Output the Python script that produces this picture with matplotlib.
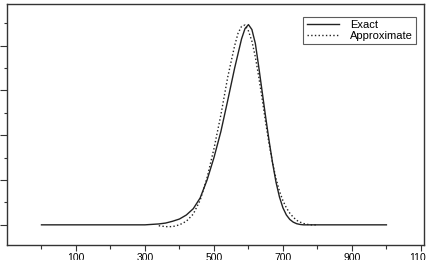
import matplotlib
matplotlib.use("Agg")
import matplotlib.pyplot as plt
from matplotlib.ticker import FixedLocator, NullFormatter

plt.rcParams['font.family'] = ['Liberation Sans', 'DejaVu Sans']

exact_x = [0, 300, 320, 340, 360, 380, 400, 420, 440, 460, 480, 500, 520, 540, 560,
           580, 590, 600, 610, 620, 630, 640, 650, 660, 670, 680, 690, 700, 710,
           720, 730, 740, 750, 760, 1000]
exact_y = [0.0, 0.0, 0.01, 0.02, 0.04, 0.08, 0.13, 0.22, 0.36, 0.60, 1.00, 1.50, 2.08,
           2.78, 3.50, 4.15, 4.38, 4.47, 4.36, 4.05, 3.52, 2.96, 2.40, 1.87, 1.38,
           0.95, 0.62, 0.38, 0.22, 0.12, 0.06, 0.025, 0.008, 0.0, 0.0]

approx_x = [340, 360, 380, 400, 420, 440, 460, 480, 500, 520, 540, 560, 570, 580,
            590, 600, 610, 620, 630, 640, 650, 660, 670, 680, 690, 700, 710, 720,
            730, 740, 750, 760, 770, 780, 800]
approx_y = [-0.02, -0.04, -0.04, 0.00, 0.08, 0.24, 0.55, 1.05, 1.70, 2.45, 3.30,
            4.00, 4.28, 4.43, 4.46, 4.33, 4.10, 3.75, 3.30, 2.80, 2.28, 1.80, 1.38,
            1.03, 0.75, 0.54, 0.38, 0.26, 0.17, 0.10, 0.06, 0.03, 0.012, 0.0, 0.0]

x_labeled_ticks = [100, 300, 500, 700, 900, 1100]
x_minor_ticks = [0, 200, 400, 600, 800, 1000]
y_major_ticks = [0, 1, 2, 3, 4]
y_minor_ticks = [0.5, 1.5, 2.5, 3.5, 4.5]

fig = plt.figure(figsize=(4.27, 2.60), dpi=100)
ax = fig.add_axes([7/427, 15/260, 417/427, 241/260])

ax.plot(exact_x, exact_y, color='#222222', lw=1.0, ls='-', label='Exact')
ax.plot(approx_x, approx_y, color='#222222', lw=1.0, ls=':', label='Approximate')

ax.set_xlim(-100, 1109)
ax.set_ylim(-0.45, 4.93)

ax.xaxis.set_major_locator(FixedLocator(x_labeled_ticks))
ax.xaxis.set_minor_locator(FixedLocator(x_minor_ticks))
ax.yaxis.set_major_locator(FixedLocator(y_major_ticks))
ax.yaxis.set_minor_locator(FixedLocator(y_minor_ticks))
ax.yaxis.set_major_formatter(NullFormatter())
ax.tick_params(axis='x', which='major', length=4, width=0.8, labelsize=7.5, pad=2, color='#333333')
ax.tick_params(axis='x', which='minor', length=3, width=0.8, color='#333333')
ax.tick_params(axis='y', which='major', length=5, width=0.8, color='#333333')
ax.tick_params(axis='y', which='minor', length=2.5, width=0.8, color='#333333')

for s in ax.spines.values():
    s.set_linewidth(1.0)
    s.set_color('#333333')

leg = ax.legend(loc='upper right', bbox_to_anchor=(0.981, 0.946), borderaxespad=0,
                fontsize=8, frameon=True, fancybox=False, handlelength=2.9,
                handletextpad=1.0, labelspacing=0.05, borderpad=0.3)
leg.get_frame().set_edgecolor('#333333')
leg.get_frame().set_linewidth(0.8)

fig.savefig('out.png', dpi=100)
